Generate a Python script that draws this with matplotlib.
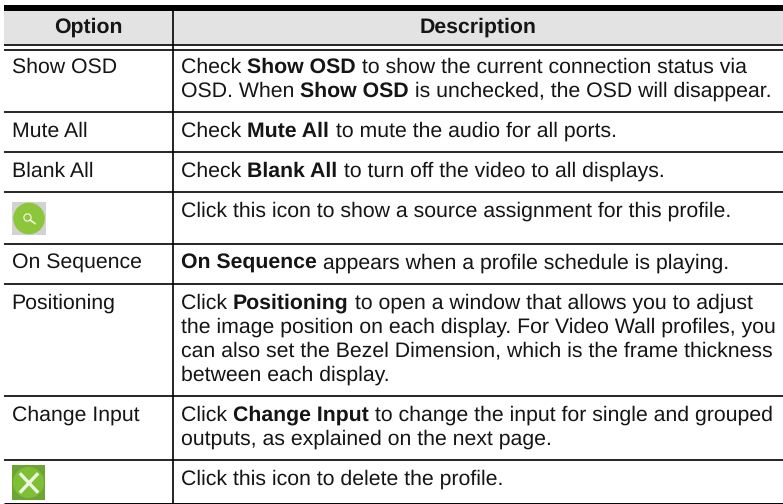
import math

import matplotlib
matplotlib.use("Agg")
import matplotlib.pyplot as plt
from matplotlib.patches import Rectangle, Circle

W, H = 783, 504

headers = ["Option", "Description"]
options = ["Show OSD", "Mute All", "Blank All", None, "On Sequence",
           "Positioning", "Change Input", None]
# each line is a list of (text, bold) runs
descriptions = [
    [[("Check ", 0), ("Show OSD", 1), (" to show the current connection status via", 0)],
     [("OSD. When ", 0), ("Show OSD", 1), (" is unchecked, the OSD will disappear.", 0)]],
    [[("Check ", 0), ("Mute All", 1), (" to mute the audio for all ports.", 0)]],
    [[("Check ", 0), ("Blank All", 1), (" to turn off the video to all displays.", 0)]],
    [[("Click this icon to show a source assignment for this profile.", 0)]],
    [[("On Sequence", 1), (" appears when a profile schedule is playing.", 0)]],
    [[("Click ", 0), ("Positioning", 1), (" to open a window that allows you to adjust", 0)],
     [("the image position on each display. For Video Wall profiles, you", 0)],
     [("can also set the Bezel Dimension, which is the frame thickness", 0)],
     [("between each display.", 0)]],
    [[("Click ", 0), ("Change Input", 1), (" to change the input for single and grouped", 0)],
     [("outputs, as explained on the next page.", 0)]],
    [[("Click this icon to delete the profile.", 0)]],
]
row_lines = [111.7, 152, 192, 244, 283.7, 395.5, 460]
first_baselines = [72, 136, 176, 216, 268, 308, 420, 484]

plt.rcParams["font.family"] = ["Liberation Sans", "DejaVu Sans"]
plt.rcParams["text.hinting"] = "no_hinting"
plt.rcParams["text.hinting_factor"] = 8
FS = 15.3
INK = "#151515"

fig = plt.figure(figsize=(W / 100, H / 100), dpi=100)
ax = fig.add_axes([0, 0, 1, 1])
ax.set_xlim(0, W)
ax.set_ylim(H, 0)
ax.axis("off")

LEFT, MID, RIGHT = 3.5, 173, 783

ax.add_patch(Rectangle((LEFT, 10), RIGHT - LEFT, 35, color="#e3e3e3", lw=0))
ax.add_patch(Rectangle((LEFT, 5), RIGHT - LEFT, 6, color="black", lw=0))
ax.plot([LEFT, RIGHT], [45, 45], color="black", lw=1.2, solid_capstyle="butt")
ax.plot([LEFT, RIGHT], [50, 50], color="black", lw=1.2, solid_capstyle="butt")
for y in row_lines:
    ax.plot([LEFT, RIGHT], [y, y], color="black", lw=1.2, solid_capstyle="butt")
ax.plot([LEFT, RIGHT], [503.4, 503.4], color="black", lw=0.7, solid_capstyle="butt")
ax.plot([MID, MID], [10, 503], color="black", lw=1.2, solid_capstyle="butt")

renderer = fig.canvas.get_renderer()


def put_text(x, y, s, bold=False, ha="left"):
    t = ax.text(x, y, s, ha=ha, va="baseline", fontsize=FS, color=INK,
                fontweight="bold" if bold else "normal")
    # agg rounds baseline + descent, which makes runs on one line wobble by a pixel
    d = renderer.get_text_width_height_descent(s, t.get_fontproperties(), False)[2]
    t.set_y(y + math.ceil(d) - d)
    return t


def draw_runs(x, y, runs):
    for text, bold in runs:
        t = put_text(x, y, text, bold)
        # trailing/leading spaces count in the advance, so measure through a marker
        w_full = renderer.get_text_width_height_descent(
            text.replace(" ", "n"), t.get_fontproperties(), False)[0]
        w_n = renderer.get_text_width_height_descent(
            "n", t.get_fontproperties(), False)[0]
        w_sp = renderer.get_text_width_height_descent(
            "n n", t.get_fontproperties(), False)[0] - 2 * w_n
        x += w_full - text.count(" ") * (w_n - w_sp)


put_text((LEFT + MID) / 2, 32, headers[0], True, "center")
put_text((MID + RIGHT) / 2, 32, headers[1], True, "center")

for i, lines in enumerate(descriptions):
    if options[i]:
        put_text(11.5, first_baselines[i], options[i])
    for j, runs in enumerate(lines):
        draw_runs(181, first_baselines[i] + j * 24, runs)

# search icon
ax.add_patch(Rectangle((12, 202), 34, 33, color="#d2d2d2", lw=0))
ax.add_patch(Circle((29, 218.5), 15.8, color="#8cc63a", lw=0))
ax.add_patch(Circle((27.5, 217.5), 3.6, fill=False, ec="#f0f7e0", lw=0.9))
ax.plot([30, 35], [220, 223.5], color="#f0f7e0", lw=1.2)

# delete icon
ax.add_patch(Rectangle((12, 465), 33, 35, color="#6da534", lw=0))
ax.add_patch(Circle((28.5, 482.5), 15.5, color="#7fbf35", lw=0))
ax.plot([21, 37], [474.5, 491.5], color="#eef6e2", lw=2.4)
ax.plot([37, 21], [474.5, 491.5], color="#eef6e2", lw=2.4)

fig.savefig("out.png", dpi=100)
